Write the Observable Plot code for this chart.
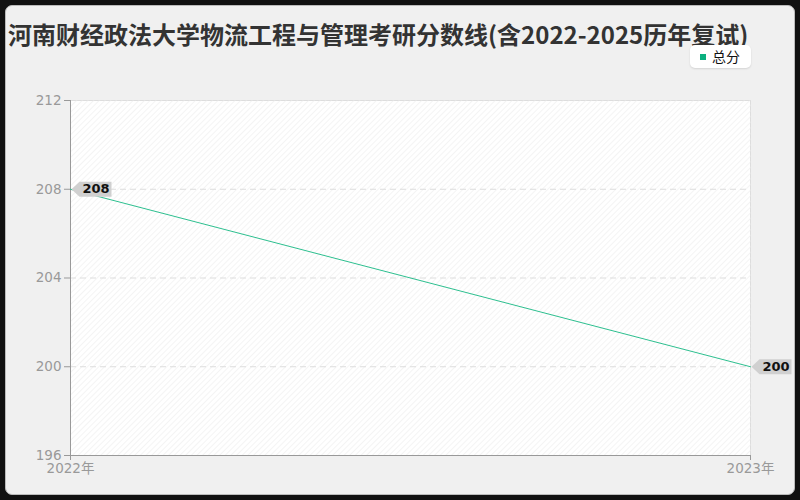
<!DOCTYPE html>
<html><head><meta charset="utf-8">
<script src="https://cdn.jsdelivr.net/npm/d3@7"></script>
<script src="https://cdn.jsdelivr.net/npm/@observablehq/plot@0.6"></script>
<style>
html,body{margin:0;padding:0;background:#111;width:800px;height:500px;overflow:hidden;font-family:"Noto Sans CJK SC","Noto Sans",sans-serif;}
#panel{position:absolute;left:5px;top:5px;width:788px;height:488px;background:#f0f0f0;border:1px solid #bbb;border-radius:7px;}
#title{position:absolute;left:8px;top:22px;font-size:24px;line-height:24px;font-weight:bold;color:#333;white-space:nowrap;}
#legend{position:absolute;left:690px;top:45px;width:61px;height:23px;background:#fff;border-radius:5px;font-size:14px;color:#111;line-height:23px;box-shadow:0 1px 2px rgba(0,0,0,0.12);}
#legend span.sw{display:inline-block;width:6px;height:6px;background:#0bb07f;margin:0 6px 2px 10px;vertical-align:middle;}
#chart{position:absolute;left:0;top:0;}
#chart svg text{font-family:"DejaVu Sans","Noto Sans CJK SC",sans-serif;}
</style></head>
<body>
<div id="panel"></div>
<div id="title">河南财经政法大学物流工程与管理考研分数线(含2022-2025历年复试)</div>
<div id="legend"><span class="sw"></span>总分</div>
<div id="chart"></div>
<script>
const years = ["2022", "2023"];
const totals = [208, 200];
const yTicks = [196, 200, 204, 208, 212];
const seriesName = "总分";

const data = years.map((y, i) => ({year: y, value: totals[i]}));
const lineColor = "#2dbf8f";

const callout = {
  draw(ctx) {
    ctx.moveTo(1, 0);
    ctx.lineTo(9, -7.5);
    ctx.lineTo(41, -7.5);
    ctx.lineTo(41, 7.5);
    ctx.lineTo(9, 7.5);
    ctx.closePath();
  }
};

const plot = Plot.plot({
  width: 800,
  height: 500,
  marginLeft: 70,
  marginRight: 50,
  marginTop: 100,
  marginBottom: 45,
  style: {background: "transparent", fontFamily: "'DejaVu Sans',sans-serif", fontSize: "13.5px", overflow: "visible"},
  x: {type: "point", domain: years, padding: 0, label: null},
  y: {domain: [196, 212], label: null},
  marks: [
    Plot.frame({fill: "#fff", stroke: "#ddd"}),
    Plot.frame({fill: "url(#hatch)", stroke: null}),
    Plot.gridY([200, 204, 208], {stroke: "#ddd", strokeOpacity: 1, strokeDasharray: "6,4"}),
    Plot.axisY(yTicks, {tickSize: 6, tickPadding: 3, fontSize: 13.5, fill: "#999", stroke: "#999", tickFormat: d => d, label: null}),
    Plot.ruleX([years[0]], {stroke: "#999"}),
    Plot.ruleY([196], {stroke: "#999"}),
    Plot.axisX(years, {tickSize: 5, tickPadding: 3, fontSize: 13.5, fill: "#999", stroke: "#999", tickFormat: d => d + "年", label: null}),
    Plot.line(data, {x: "year", y: "value", stroke: lineColor, strokeWidth: 1}),
    Plot.dot(data, {x: "year", y: "value", symbol: callout, r: 5, fill: "#d0d0d0", stroke: null}),
    Plot.text(data, {x: "year", y: "value", text: d => String(d.value), dx: 12, textAnchor: "start", fontSize: 13, fontWeight: "bold", fill: "#111"})
  ]
});

const svg = d3.select(plot);
const defs = svg.insert("defs", ":first-child");
const pat = defs.append("pattern").attr("id", "hatch").attr("patternUnits", "userSpaceOnUse")
  .attr("width", 4).attr("height", 4).attr("patternTransform", "rotate(45)");
pat.append("line").attr("x1", 0).attr("y1", 0).attr("x2", 0).attr("y2", 4).attr("stroke", "#f1f1f1").attr("stroke-width", 1.5);

document.getElementById("chart").appendChild(plot);
</script>
</body></html>
